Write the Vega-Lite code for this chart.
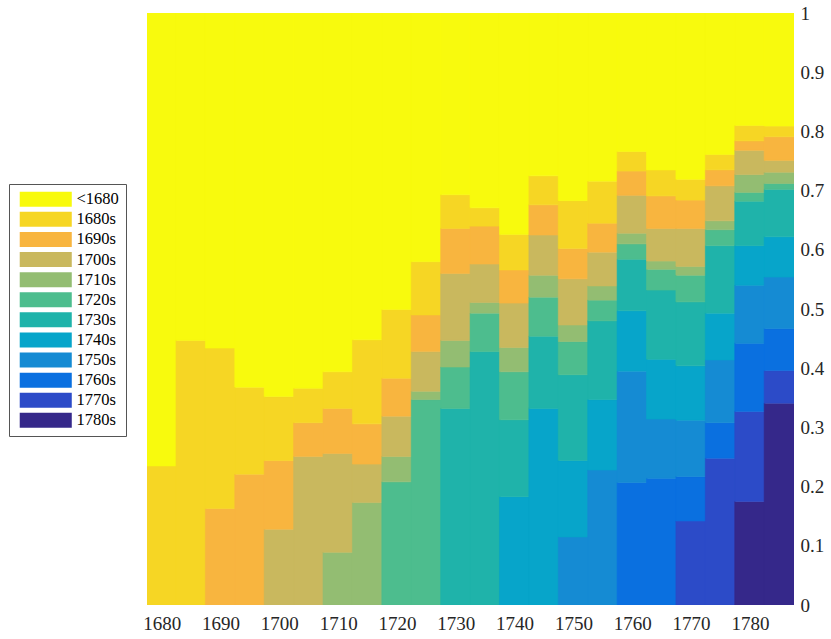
{
  "$schema": "https://vega.github.io/schema/vega-lite/v6.json",
  "width": 647,
  "height": 592,
  "autosize": "none",
  "padding": {"left": 147, "top": 13, "right": 37, "bottom": 34},
  "background": "white",
  "data": {
    "values": [
      {"year": 1680, "cohort": "1680s", "share": 0.235}, {"year": 1680, "cohort": "<1680", "share": 0.765},
      {"year": 1685, "cohort": "1680s", "share": 0.447}, {"year": 1685, "cohort": "<1680", "share": 0.553},
      {"year": 1690, "cohort": "1690s", "share": 0.163}, {"year": 1690, "cohort": "1680s", "share": 0.271}, {"year": 1690, "cohort": "<1680", "share": 0.566},
      {"year": 1695, "cohort": "1690s", "share": 0.221}, {"year": 1695, "cohort": "1680s", "share": 0.147}, {"year": 1695, "cohort": "<1680", "share": 0.632},
      {"year": 1700, "cohort": "1700s", "share": 0.128}, {"year": 1700, "cohort": "1690s", "share": 0.116}, {"year": 1700, "cohort": "1680s", "share": 0.108}, {"year": 1700, "cohort": "<1680", "share": 0.648},
      {"year": 1705, "cohort": "1700s", "share": 0.251}, {"year": 1705, "cohort": "1690s", "share": 0.057}, {"year": 1705, "cohort": "1680s", "share": 0.058}, {"year": 1705, "cohort": "<1680", "share": 0.634},
      {"year": 1710, "cohort": "1710s", "share": 0.089}, {"year": 1710, "cohort": "1700s", "share": 0.167}, {"year": 1710, "cohort": "1690s", "share": 0.076}, {"year": 1710, "cohort": "1680s", "share": 0.062}, {"year": 1710, "cohort": "<1680", "share": 0.606},
      {"year": 1715, "cohort": "1710s", "share": 0.173}, {"year": 1715, "cohort": "1700s", "share": 0.065}, {"year": 1715, "cohort": "1690s", "share": 0.068}, {"year": 1715, "cohort": "1680s", "share": 0.142}, {"year": 1715, "cohort": "<1680", "share": 0.552},
      {"year": 1720, "cohort": "1720s", "share": 0.208}, {"year": 1720, "cohort": "1710s", "share": 0.043}, {"year": 1720, "cohort": "1700s", "share": 0.068}, {"year": 1720, "cohort": "1690s", "share": 0.064}, {"year": 1720, "cohort": "1680s", "share": 0.116}, {"year": 1720, "cohort": "<1680", "share": 0.501},
      {"year": 1725, "cohort": "1720s", "share": 0.347}, {"year": 1725, "cohort": "1710s", "share": 0.014}, {"year": 1725, "cohort": "1700s", "share": 0.067}, {"year": 1725, "cohort": "1690s", "share": 0.062}, {"year": 1725, "cohort": "1680s", "share": 0.090}, {"year": 1725, "cohort": "<1680", "share": 0.420},
      {"year": 1730, "cohort": "1730s", "share": 0.332}, {"year": 1730, "cohort": "1720s", "share": 0.070}, {"year": 1730, "cohort": "1710s", "share": 0.045}, {"year": 1730, "cohort": "1700s", "share": 0.113}, {"year": 1730, "cohort": "1690s", "share": 0.076}, {"year": 1730, "cohort": "1680s", "share": 0.057}, {"year": 1730, "cohort": "<1680", "share": 0.307},
      {"year": 1735, "cohort": "1730s", "share": 0.428}, {"year": 1735, "cohort": "1720s", "share": 0.065}, {"year": 1735, "cohort": "1710s", "share": 0.018}, {"year": 1735, "cohort": "1700s", "share": 0.065}, {"year": 1735, "cohort": "1690s", "share": 0.064}, {"year": 1735, "cohort": "1680s", "share": 0.031}, {"year": 1735, "cohort": "<1680", "share": 0.329},
      {"year": 1740, "cohort": "1740s", "share": 0.183}, {"year": 1740, "cohort": "1730s", "share": 0.130}, {"year": 1740, "cohort": "1720s", "share": 0.081}, {"year": 1740, "cohort": "1710s", "share": 0.041}, {"year": 1740, "cohort": "1700s", "share": 0.075}, {"year": 1740, "cohort": "1690s", "share": 0.056}, {"year": 1740, "cohort": "1680s", "share": 0.060}, {"year": 1740, "cohort": "<1680", "share": 0.374},
      {"year": 1745, "cohort": "1740s", "share": 0.332}, {"year": 1745, "cohort": "1730s", "share": 0.122}, {"year": 1745, "cohort": "1720s", "share": 0.066}, {"year": 1745, "cohort": "1710s", "share": 0.037}, {"year": 1745, "cohort": "1700s", "share": 0.068}, {"year": 1745, "cohort": "1690s", "share": 0.051}, {"year": 1745, "cohort": "1680s", "share": 0.049}, {"year": 1745, "cohort": "<1680", "share": 0.275},
      {"year": 1750, "cohort": "1750s", "share": 0.115}, {"year": 1750, "cohort": "1740s", "share": 0.129}, {"year": 1750, "cohort": "1730s", "share": 0.145}, {"year": 1750, "cohort": "1720s", "share": 0.056}, {"year": 1750, "cohort": "1710s", "share": 0.028}, {"year": 1750, "cohort": "1700s", "share": 0.078}, {"year": 1750, "cohort": "1690s", "share": 0.051}, {"year": 1750, "cohort": "1680s", "share": 0.081}, {"year": 1750, "cohort": "<1680", "share": 0.317},
      {"year": 1755, "cohort": "1750s", "share": 0.228}, {"year": 1755, "cohort": "1740s", "share": 0.119}, {"year": 1755, "cohort": "1730s", "share": 0.133}, {"year": 1755, "cohort": "1720s", "share": 0.035}, {"year": 1755, "cohort": "1710s", "share": 0.024}, {"year": 1755, "cohort": "1700s", "share": 0.057}, {"year": 1755, "cohort": "1690s", "share": 0.049}, {"year": 1755, "cohort": "1680s", "share": 0.071}, {"year": 1755, "cohort": "<1680", "share": 0.284},
      {"year": 1760, "cohort": "1760s", "share": 0.207}, {"year": 1760, "cohort": "1750s", "share": 0.188}, {"year": 1760, "cohort": "1740s", "share": 0.102}, {"year": 1760, "cohort": "1730s", "share": 0.087}, {"year": 1760, "cohort": "1720s", "share": 0.026}, {"year": 1760, "cohort": "1710s", "share": 0.018}, {"year": 1760, "cohort": "1700s", "share": 0.064}, {"year": 1760, "cohort": "1690s", "share": 0.041}, {"year": 1760, "cohort": "1680s", "share": 0.033}, {"year": 1760, "cohort": "<1680", "share": 0.234},
      {"year": 1765, "cohort": "1760s", "share": 0.214}, {"year": 1765, "cohort": "1750s", "share": 0.100}, {"year": 1765, "cohort": "1740s", "share": 0.101}, {"year": 1765, "cohort": "1730s", "share": 0.117}, {"year": 1765, "cohort": "1720s", "share": 0.035}, {"year": 1765, "cohort": "1710s", "share": 0.014}, {"year": 1765, "cohort": "1700s", "share": 0.055}, {"year": 1765, "cohort": "1690s", "share": 0.055}, {"year": 1765, "cohort": "1680s", "share": 0.044}, {"year": 1765, "cohort": "<1680", "share": 0.265},
      {"year": 1770, "cohort": "1770s", "share": 0.142}, {"year": 1770, "cohort": "1760s", "share": 0.075}, {"year": 1770, "cohort": "1750s", "share": 0.095}, {"year": 1770, "cohort": "1740s", "share": 0.092}, {"year": 1770, "cohort": "1730s", "share": 0.108}, {"year": 1770, "cohort": "1720s", "share": 0.045}, {"year": 1770, "cohort": "1710s", "share": 0.015}, {"year": 1770, "cohort": "1700s", "share": 0.064}, {"year": 1770, "cohort": "1690s", "share": 0.048}, {"year": 1770, "cohort": "1680s", "share": 0.035}, {"year": 1770, "cohort": "<1680", "share": 0.281},
      {"year": 1775, "cohort": "1770s", "share": 0.248}, {"year": 1775, "cohort": "1760s", "share": 0.060}, {"year": 1775, "cohort": "1750s", "share": 0.106}, {"year": 1775, "cohort": "1740s", "share": 0.079}, {"year": 1775, "cohort": "1730s", "share": 0.114}, {"year": 1775, "cohort": "1720s", "share": 0.027}, {"year": 1775, "cohort": "1710s", "share": 0.015}, {"year": 1775, "cohort": "1700s", "share": 0.059}, {"year": 1775, "cohort": "1690s", "share": 0.027}, {"year": 1775, "cohort": "1680s", "share": 0.026}, {"year": 1775, "cohort": "<1680", "share": 0.239},
      {"year": 1780, "cohort": "1780s", "share": 0.175}, {"year": 1780, "cohort": "1770s", "share": 0.152}, {"year": 1780, "cohort": "1760s", "share": 0.115}, {"year": 1780, "cohort": "1750s", "share": 0.098}, {"year": 1780, "cohort": "1740s", "share": 0.067}, {"year": 1780, "cohort": "1730s", "share": 0.075}, {"year": 1780, "cohort": "1720s", "share": 0.015}, {"year": 1780, "cohort": "1710s", "share": 0.030}, {"year": 1780, "cohort": "1700s", "share": 0.041}, {"year": 1780, "cohort": "1690s", "share": 0.016}, {"year": 1780, "cohort": "1680s", "share": 0.026}, {"year": 1780, "cohort": "<1680", "share": 0.190},
      {"year": 1785, "cohort": "1780s", "share": 0.341}, {"year": 1785, "cohort": "1770s", "share": 0.055}, {"year": 1785, "cohort": "1760s", "share": 0.071}, {"year": 1785, "cohort": "1750s", "share": 0.087}, {"year": 1785, "cohort": "1740s", "share": 0.068}, {"year": 1785, "cohort": "1730s", "share": 0.080}, {"year": 1785, "cohort": "1720s", "share": 0.010}, {"year": 1785, "cohort": "1710s", "share": 0.019}, {"year": 1785, "cohort": "1700s", "share": 0.020}, {"year": 1785, "cohort": "1690s", "share": 0.040}, {"year": 1785, "cohort": "1680s", "share": 0.018}, {"year": 1785, "cohort": "<1680", "share": 0.191}
    ]
  },
  "transform": [
    {"calculate": "indexof(['<1680','1680s','1690s','1700s','1710s','1720s','1730s','1740s','1750s','1760s','1770s','1780s'], datum.cohort)", "as": "k"}
  ],
  "mark": {"type": "bar", "width": 30.3, "clip": true, "strokeWidth": 0.6},
  "encoding": {
    "x": {
      "field": "year",
      "type": "quantitative",
      "scale": {"domain": [1677.5, 1787.5], "nice": false, "zero": false, "padding": 0},
      "axis": {
        "title": null,
        "values": [1680, 1690, 1700, 1710, 1720, 1730, 1740, 1750, 1760, 1770, 1780],
        "format": "d",
        "domain": false,
        "ticks": false,
        "grid": false,
        "labelPadding": 9
      }
    },
    "y": {
      "field": "share",
      "type": "quantitative",
      "stack": "zero",
      "scale": {"domain": [0, 1], "nice": false},
      "axis": {
        "title": null,
        "orient": "right",
        "values": [0, 0.1, 0.2, 0.3, 0.4, 0.5, 0.6, 0.7, 0.8, 0.9, 1],
        "format": "~g",
        "domain": false,
        "ticks": false,
        "grid": false,
        "labelPadding": 6
      }
    },
    "color": {
      "field": "cohort",
      "type": "nominal",
      "scale": {
        "domain": ["<1680", "1680s", "1690s", "1700s", "1710s", "1720s", "1730s", "1740s", "1750s", "1760s", "1770s", "1780s"],
        "range": ["#f8fa0d", "#f6d624", "#f8b53f", "#c9b85e", "#93bd72", "#4dbd8e", "#1fb3aa", "#07a5ca", "#158bd3", "#0a70e0", "#2c4bc8", "#35288a"]
      },
      "legend": {
        "title": null,
        "orient": "none",
        "legendX": -138,
        "legendY": 171,
        "symbolType": "M-3.47,-1H3.47V1H-3.47Z",
        "symbolSize": 225,
        "symbolStrokeWidth": 0,
        "symbolOpacity": 1,
        "symbolOffset": 21.5,
        "labelOffset": 22.5,
        "rowPadding": 3.1,
        "padding": 7,
        "strokeColor": "#555555",
        "fillColor": "white"
      }
    },
    "stroke": {
      "field": "cohort",
      "type": "nominal",
      "scale": {
        "domain": ["<1680", "1680s", "1690s", "1700s", "1710s", "1720s", "1730s", "1740s", "1750s", "1760s", "1770s", "1780s"],
        "range": ["#f8fa0d", "#f6d624", "#f8b53f", "#c9b85e", "#93bd72", "#4dbd8e", "#1fb3aa", "#07a5ca", "#158bd3", "#0a70e0", "#2c4bc8", "#35288a"]
      },
      "legend": null
    },
    "order": {"field": "k", "sort": "descending"}
  },
  "config": {
    "font": "Liberation Serif",
    "view": {"stroke": null},
    "axis": {
      "labelFont": "Liberation Serif",
      "labelFontSize": 19,
      "labelColor": "#262626"
    },
    "legend": {
      "labelFont": "Liberation Serif",
      "labelFontSize": 16.5,
      "labelColor": "#000000"
    }
  }
}
